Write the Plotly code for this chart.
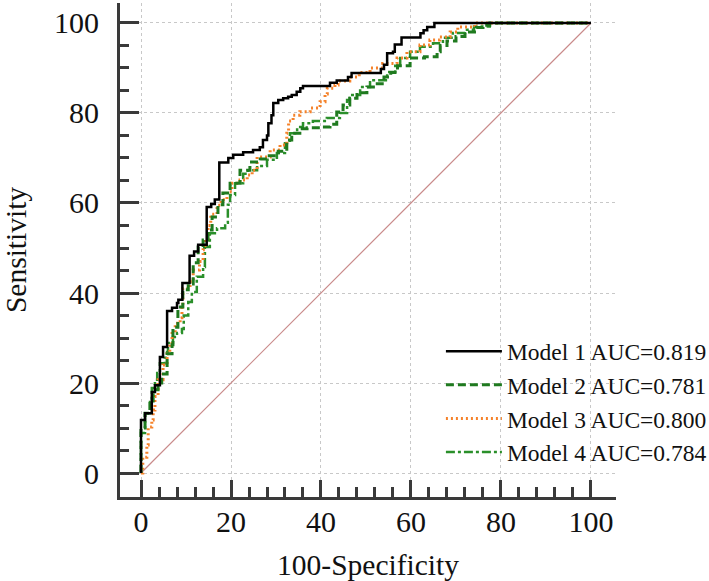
import plotly.graph_objects as go

# ---- data (step curves) ----
model1_x = [0, 0, 0.9, 2.4, 3.1, 4.2, 4.9, 5.8, 6.9, 8.0, 8.3, 9.2, 10.8, 11.8, 12.7, 14.6,
            15.6, 16.4, 17.4, 19.4, 20.5, 22.7, 24.9, 26.4, 27.1, 28.0, 28.3, 29.0, 29.4,
            30.5, 31.6, 32.7, 33.5, 34.6, 35.4, 36.0, 42.0, 43.5, 46.0, 46.8, 53.3, 54.0,
            54.7, 56.0, 56.4, 57.9, 62.1, 62.8, 63.6, 65.2, 100]
model1_y = [0, 11.8, 13.3, 18.0, 19.5, 25.8, 28.0, 36.0, 36.7, 37.8, 38.5, 42.2, 48.3, 49.2,
            50.7, 59.1, 59.8, 60.8, 69.0, 70.0, 70.7, 71.3, 71.8, 72.4, 74.0, 75.0, 77.7,
            79.5, 82.2, 82.9, 83.3, 83.6, 84.0, 84.7, 85.5, 86.0, 86.7, 87.2, 88.0, 88.9,
            89.8, 90.7, 93.3, 93.6, 95.2, 96.8, 97.7, 98.4, 99.1, 100, 100]

model2_x = [0, 0, 0.9, 2.0, 2.7, 3.8, 4.6, 5.8, 6.9, 7.1, 8.2, 9.3, 10.5, 11.6, 12.7, 13.8,
            14.9, 15.8, 17.1, 18.2, 19.8, 22.0, 24.2, 26.5, 28.5, 30.5, 32.4, 33.5, 35.3,
            36.9, 40.0, 42.0, 43.5, 44.9, 46.4, 48.0, 50.2, 52.5, 54.0, 55.5, 57.0, 59.8,
            63.0, 65.8, 66.5, 68.0, 70.0, 72.0, 74.5, 76.0, 77.5, 100]
model2_y = [0, 10.0, 13.3, 16.0, 18.5, 20.0, 22.0, 26.5, 28.5, 32.4, 36.9, 40.7, 42.0, 46.7,
            50.2, 51.8, 54.0, 56.9, 59.6, 62.2, 64.4, 67.3, 69.1, 69.8, 70.5, 71.5, 74.0,
            75.5, 76.5, 76.7, 76.9, 77.5, 80.2, 81.8, 83.3, 84.5, 85.8, 86.5, 88.0, 89.0,
            90.5, 92.2, 92.5, 93.6, 95.0, 96.0, 97.0, 98.0, 99.0, 99.5, 100, 100]

model3_x = [0, 0.4, 1.3, 1.6, 2.4, 2.7, 3.1, 3.8, 4.9, 5.8, 6.4, 6.9, 7.6, 8.7, 9.1, 9.3,
            10.9, 11.6, 13.0, 13.8, 14.2, 14.9, 15.5, 16.9, 17.8, 19.1, 20.2, 22.0, 23.6,
            24.7, 25.8, 28.7, 30.9, 32.4, 32.8, 33.8, 35.3, 37.6, 39.8, 40.9, 41.4, 43.1,
            43.8, 46.4, 48.5, 50.9, 53.7, 56.9, 59.1, 62.0, 64.2, 66.4, 68.7, 70.4, 74.2, 100]
model3_y = [0, 3.5, 6.2, 10.2, 11.8, 14.0, 17.0, 20.7, 24.0, 26.5, 28.5, 31.0, 33.3, 34.5,
            37.0, 41.0, 42.5, 45.1, 47.0, 49.6, 52.0, 55.0, 57.5, 59.5, 60.7, 62.5, 64.4,
            65.1, 66.2, 67.3, 70.2, 71.8, 72.9, 75.5, 78.2, 79.5, 80.3, 81.1, 82.5, 84.2,
            85.5, 86.2, 87.1, 88.0, 89.0, 90.0, 91.0, 92.2, 93.6, 95.1, 96.2, 96.9, 98.0,
            99.1, 100, 100]

model4_x = [0, 0, 0.9, 2.0, 2.4, 3.1, 3.6, 4.2, 5.3, 5.8, 6.0, 7.1, 8.0, 9.1, 9.5, 10.5,
            11.3, 12.4, 13.8, 14.2, 15.3, 16.9, 18.7, 19.3, 19.8, 20.9, 22.7, 23.8, 25.8,
            28.0, 30.2, 32.0, 33.1, 34.7, 36.0, 38.2, 41.3, 44.2, 45.8, 46.4, 48.7, 50.9,
            54.7, 56.5, 57.6, 59.8, 62.0, 64.9, 67.1, 69.3, 72.0, 74.0, 77.5, 100]
model4_y = [0, 8.9, 13.3, 15.8, 18.9, 20.7, 22.2, 24.4, 25.6, 26.9, 28.9, 30.2, 31.1, 32.0,
            35.0, 38.0, 40.2, 43.6, 45.8, 50.2, 53.3, 54.4, 55.6, 59.6, 61.8, 64.4, 66.5,
            67.3, 68.2, 69.6, 71.1, 73.3, 75.5, 76.9, 77.7, 78.2, 78.9, 80.0, 82.9, 84.0,
            85.8, 87.3, 89.1, 90.5, 92.2, 93.6, 94.7, 95.5, 96.7, 97.8, 98.5, 99.2, 100, 100]

reference_x = [0, 100]
reference_y = [0, 100]

model_names = ["Model 1 AUC=0.819", "Model 2 AUC=0.781",
               "Model 3 AUC=0.800", "Model 4 AUC=0.784"]

major_ticks = [0, 20, 40, 60, 80, 100]
major_tick_labels = ["0", "20", "40", "60", "80", "100"]
x_minor_ticks = [v for v in range(4, 100, 4) if v % 20 != 0]
y_minor_ticks = [v for v in range(5, 100, 5) if v % 20 != 0]

x_title = "100-Specificity"
y_title = "Sensitivity"

# ---- figure ----
SERIF = "Liberation Serif, Times New Roman, serif"
AXIS_COLOR = "#3a3a3a"
GRID_COLOR = "#c8c8c8"

fig = go.Figure()

fig.add_trace(go.Scatter(x=reference_x, y=reference_y, mode="lines",
                         line=dict(color="#c98a8a", width=1.2), showlegend=False,
                         hoverinfo="skip"))

fig.add_trace(go.Scatter(x=model4_x, y=model4_y, mode="lines", name=model_names[3],
                         legendrank=4,
                         line=dict(color="#2a8f2a", width=2.5, shape="hv",
                                   dash="9px,3px,3px,3px")))
fig.add_trace(go.Scatter(x=model3_x, y=model3_y, mode="lines", name=model_names[2],
                         legendrank=3,
                         line=dict(color="#f5822a", width=3, shape="hv",
                                   dash="2px,3px")))
fig.add_trace(go.Scatter(x=model2_x, y=model2_y, mode="lines", name=model_names[1],
                         legendrank=2,
                         line=dict(color="#1f7a1f", width=3, shape="hv",
                                   dash="8px,4px")))
fig.add_trace(go.Scatter(x=model1_x, y=model1_y, mode="lines", name=model_names[0],
                         legendrank=1,
                         line=dict(color="#000000", width=2.5, shape="hv")))

common_axis = dict(
    showline=True, linecolor=AXIS_COLOR, linewidth=3, mirror=False,
    showgrid=True, gridcolor=GRID_COLOR, gridwidth=1, griddash="dot",
    zeroline=False, automargin=False,
    tickmode="array", tickvals=major_ticks, ticktext=major_tick_labels,
    ticks="inside", tickwidth=3, tickcolor=AXIS_COLOR,
    tickfont=dict(family=SERIF, size=30, color="#111111"),
    title_font=dict(family=SERIF, size=29.5, color="#111111"),
)

fig.update_xaxes(**common_axis, range=[-4.667, 105.56], ticklen=17,
                 ticklabelstandoff=-4,
                 minor=dict(tickmode="array", tickvals=x_minor_ticks, ticks="inside",
                            ticklen=10, tickwidth=2.5, tickcolor=AXIS_COLOR,
                            showgrid=False),
                 title=dict(text=x_title, standoff=18))
fig.update_yaxes(**common_axis, range=[-5.33, 104.44], ticklen=19,
                 ticklabelstandoff=12,
                 minor=dict(tickmode="array", tickvals=y_minor_ticks, ticks="inside",
                            ticklen=9, tickwidth=2.5, tickcolor=AXIS_COLOR,
                            showgrid=False),
                 title=dict(text=y_title, standoff=33))

fig.update_layout(
    width=709, height=581,
    margin=dict(l=120, r=93, t=3, b=84, autoexpand=False),
    paper_bgcolor="white", plot_bgcolor="white",
    legend=dict(x=0.647, y=0.339, xanchor="left", yanchor="top",
                bgcolor="rgba(0,0,0,0)", borderwidth=0,
                font=dict(family=SERIF, size=23.5, color="#111111"),
                itemwidth=56, traceorder="normal"),
)

fig.write_html("out.html",
               config={"displayModeBar": False},
               post_script="document.body.style.margin='0px';"
                           "document.body.style.overflow='hidden';")
